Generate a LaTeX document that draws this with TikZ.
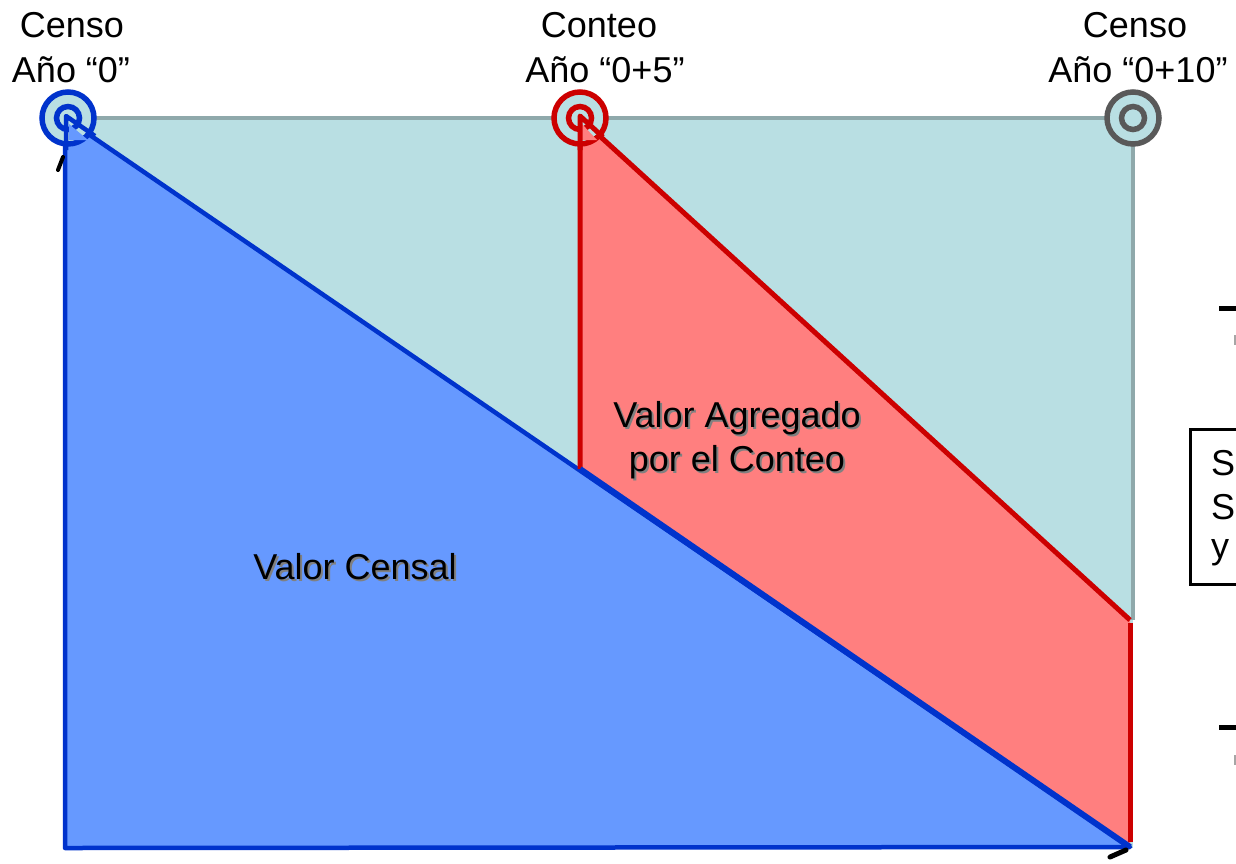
\documentclass[tikz,border=0pt]{standalone}
\usepackage{fontspec}
\setmainfont{Liberation Sans}
\definecolor{teal1}{HTML}{B9DFE3}
\definecolor{tealedge}{HTML}{8FA9AB}
\definecolor{bluefill}{HTML}{6699FF}
\definecolor{bluedge}{HTML}{0033CC}
\definecolor{redfill}{HTML}{FF7F7F}
\definecolor{redge}{HTML}{CC0000}
\definecolor{greyring}{HTML}{595959}
\tikzset{
  lbl/.style={font=\fontsize{36}{44}\selectfont, align=center, inner sep=0pt},
  ring/.style={line width=5.5pt, fill=teal1},
}
\begin{document}
\begin{tikzpicture}[x=1pt,y=-1pt]
\useasboundingbox (0,0) rectangle (1236,863);
% key points
\coordinate (TL) at (65,118);
\coordinate (BL) at (65,848);
\coordinate (BR) at (1130,847);
\coordinate (TM) at (580,118);
\coordinate (HM) at (580,469);
\coordinate (TR) at (1133,118);
\coordinate (RR) at (1130,620);
% teal background
\fill[teal1] (65,118) rectangle (1133,848);
\draw[tealedge, line width=4pt] (TL) -- (TR) -- (1133,620);
% blue triangle
\draw[bluedge, fill=bluefill, line width=4.5pt, line join=round] (TL) -- (BL) -- (BR) -- cycle;
% red polygon
\fill[redfill] (TM) -- (HM) -- (BR) -- (RR) -- cycle;
\draw[redge, line width=5pt, line join=round] (HM) -- (TM) -- (RR);
\draw[redge, line width=5pt] (1130,623) -- (1130,842);
\draw[bluedge, line width=6pt] (HM) -- (BR);
% rings
\draw[bluedge, ring] (68,118) circle (26);
\draw[bluedge, line width=5.5pt] (68,118) circle (11.5);
\draw[redge, ring] (580,118) circle (26);
\draw[redge, line width=5.5pt] (580,118) circle (11.5);
\draw[greyring, ring] (1133,118) circle (26);
\draw[greyring, line width=5.5pt] (1133,118) circle (11.5);
% redraw triangle tips over rings
\fill[bluefill] (69,124) -- (69,140) -- (88,140) -- cycle;
\draw[bluedge, line width=4.5pt, line join=round] (66,150) -- (66,116) -- (95,136);
\fill[redfill] (582,124) -- (582,140) -- (597,140) -- cycle;
\draw[redge, line width=5pt, line join=round] (580,150) -- (580,116) -- (603,137);
% stray arrow marks
\draw[black, line width=4pt, line cap=round] (63,157) -- (58,170);
\draw[black, line width=5pt, line cap=round] (1110,857) -- (1126,850);
% top labels
\node[lbl] (l0a) at (72,25) {Censo};
\node[lbl] (l0b) at (71,70) {Año “0”};
\node[lbl] (l5a) at (599,25) {Conteo};
\node[lbl] (l5b) at (605,70) {Año “0+5”};
\node[lbl] (l10a) at (1135,25) {Censo};
\node[lbl] (l10b) at (1138,70) {Año “0+10”};
% area labels with shadow
\node[lbl, text=gray] at (357,569) {Valor Censal};
\node[lbl] (vc) at (355,567) {Valor Censal};
\node[lbl, text=gray] at (739,442) {Valor Agregado\\por el Conteo};
\node[lbl] (va) at (737,440) {Valor Agregado\\por el Conteo};
% right-edge clipped items
\draw[black, line width=5pt] (1219,308) -- (1240,308);
\draw[gray!70, line width=1.5pt] (1235,335) -- (1235,345);
\draw[black, line width=5pt] (1219,727) -- (1240,727);
\draw[gray!70, line width=1.5pt] (1235,755) -- (1235,765);
\begin{scope}
\clip (0,0) rectangle (1236,863);
\node[draw=black, line width=3pt, minimum width=80pt, minimum height=155pt, anchor=north west, inner sep=0pt] (box) at (1189,428) {};
\node[lbl, anchor=west] (s1) at (1211,463) {S};
\node[lbl, anchor=west] (s2) at (1211,507) {S};
\node[lbl, anchor=west] (s3) at (1211,553) {y};
\end{scope}
\end{tikzpicture}
\end{document}
